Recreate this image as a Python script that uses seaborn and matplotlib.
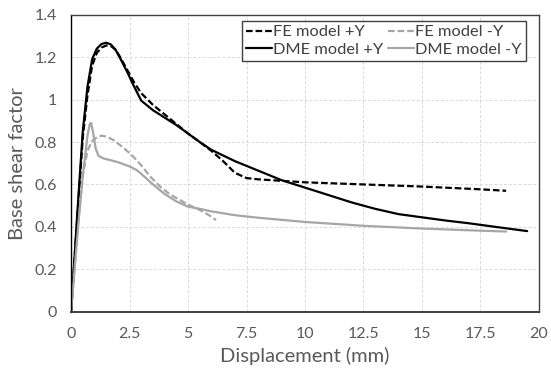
import matplotlib
matplotlib.use("Agg")
import matplotlib.pyplot as plt
import seaborn as sns
import pandas as pd

fe_pos_x = [0, 0.3, 0.5, 0.7, 0.9, 1.1, 1.3, 1.5, 1.7, 1.9, 2.1, 2.4, 2.7, 3.0, 3.5, 4.0, 4.5, 5.0, 5.5, 6.0, 6.5, 7.0, 7.5, 8.0, 9.0, 10, 12.5, 15, 17.5, 18.6]
fe_pos_y = [0, 0.5, 0.82, 1.02, 1.16, 1.22, 1.245, 1.255, 1.253, 1.235, 1.2, 1.14, 1.08, 1.03, 0.975, 0.93, 0.885, 0.84, 0.80, 0.758, 0.71, 0.655, 0.63, 0.624, 0.617, 0.61, 0.6, 0.59, 0.577, 0.57]

fe_neg_x = [0, 0.3, 0.5, 0.7, 0.9, 1.1, 1.3, 1.5, 1.8, 2.1, 2.5, 2.8, 3.0, 3.4, 3.8, 4.2, 4.6, 5.0, 5.5, 5.9, 6.2]
fe_neg_y = [0, 0.42, 0.64, 0.76, 0.805, 0.822, 0.83, 0.826, 0.81, 0.785, 0.748, 0.715, 0.69, 0.635, 0.59, 0.555, 0.53, 0.505, 0.48, 0.455, 0.432]

dme_pos_x = [0, 0.3, 0.5, 0.7, 0.9, 1.1, 1.3, 1.5, 1.7, 1.9, 2.1, 2.4, 2.7, 3.0, 3.5, 4.0, 4.5, 5.0, 5.5, 6.0, 7.0, 8.0, 9.0, 10, 11, 12, 13, 14, 15, 16, 17, 18, 19.5]
dme_pos_y = [0, 0.52, 0.85, 1.06, 1.19, 1.24, 1.262, 1.268, 1.26, 1.235, 1.195, 1.13, 1.06, 0.995, 0.95, 0.915, 0.88, 0.84, 0.8, 0.763, 0.71, 0.665, 0.62, 0.585, 0.55, 0.515, 0.485, 0.46, 0.445, 0.43, 0.417, 0.402, 0.38]

dme_neg_x = [0, 0.3, 0.5, 0.7, 0.8, 0.86, 0.95, 1.05, 1.17, 1.4, 1.7, 2.0, 2.5, 2.8, 3.0, 3.5, 4.0, 4.5, 5.0, 5.5, 6.0, 7.0, 8.0, 9.0, 10, 12.5, 15, 17.5, 18.6]
dme_neg_y = [0, 0.4, 0.64, 0.83, 0.885, 0.89, 0.84, 0.77, 0.735, 0.722, 0.714, 0.705, 0.685, 0.668, 0.65, 0.6, 0.555, 0.52, 0.495, 0.485, 0.473, 0.455, 0.443, 0.433, 0.423, 0.405, 0.392, 0.382, 0.378]

labels = ["FE model +Y", "FE model -Y", "DME model +Y", "DME model -Y"]
x_ticks = [0, 2.5, 5, 7.5, 10, 12.5, 15, 17.5, 20]
x_tick_labels = ["0", "2.5", "5", "7.5", "10", "12.5", "15", "17.5", "20"]
y_ticks = [0, 0.2, 0.4, 0.6, 0.8, 1.0, 1.2, 1.4]
y_tick_labels = ["0", "0.2", "0.4", "0.6", "0.8", "1", "1.2", "1.4"]

sns.set_style("white")
plt.rcParams['font.family'] = ['Lato', 'DejaVu Sans']

fig = plt.figure(figsize=(5.51, 3.78), dpi=100)
ax = fig.add_axes([0.129, 0.1754, 0.849, 0.7856])

series = [
    (fe_pos_x, fe_pos_y, "black", (0, (3, 1.3))),
    (fe_neg_x, fe_neg_y, "#A6A6A6", (0, (3, 1.3))),
    (dme_pos_x, dme_pos_y, "black", "-"),
    (dme_neg_x, dme_neg_y, "#A6A6A6", "-"),
]
for (xs, ys, c, ls), lab in zip(series, labels):
    df = pd.DataFrame({"x": xs, "y": ys})
    sns.lineplot(data=df, x="x", y="y", ax=ax, color=c, linestyle=ls, lw=1.6,
                 sort=False, estimator=None, label=lab)

ax.set_xlim(0, 20)
ax.set_ylim(0, 1.4)
ax.set_xticks(x_ticks)
ax.set_xticklabels(x_tick_labels)
ax.set_yticks(y_ticks)
ax.set_yticklabels(y_tick_labels)
ax.tick_params(axis='both', labelsize=11.5, colors="#595959", length=0)
ax.tick_params(axis='x', pad=11)
ax.tick_params(axis='y', pad=10)
ax.grid(True, color="#D9D9D9", linestyle=(0, (3, 2)), lw=0.7)
for s in ax.spines.values():
    s.set_color("#404040")
    s.set_linewidth(1.0)
ax.spines['bottom'].set_linewidth(1.4)
ax.spines['left'].set_color("black")

ax.set_xlabel("Displacement (mm)", fontsize=14.5, color="#595959", labelpad=4)
ax.set_ylabel("Base shear factor", fontsize=14.5, color="#595959", labelpad=6)

h, l = ax.get_legend_handles_labels()
order = [0, 2, 1, 3]
leg = ax.legend([h[i] for i in order], [l[i] for i in order], ncol=2, loc="upper right",
                bbox_to_anchor=(0.972, 0.98), fontsize=11.8,
                frameon=True, fancybox=False, framealpha=1, edgecolor="#404040",
                handlelength=1.6, handletextpad=0.05, columnspacing=0.3,
                borderpad=0.25, labelspacing=0.2, borderaxespad=0)
leg.get_frame().set_linewidth(1.0)
for t in leg.get_texts():
    t.set_color("#404040")

fig.savefig("out.png", dpi=100)
